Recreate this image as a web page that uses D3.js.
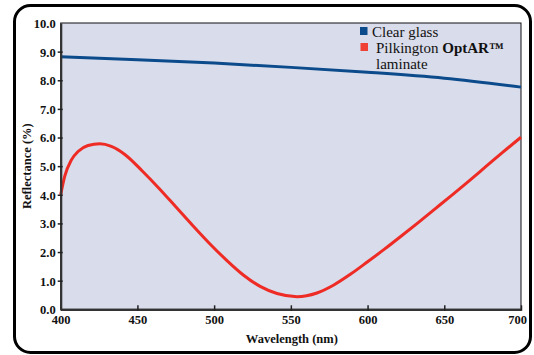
<!DOCTYPE html>
<html>
<head>
<meta charset="utf-8">
<script src="https://cdn.jsdelivr.net/npm/d3@7"></script>
<style>
  body { margin: 0; background: #fff; }
  svg { display: block; }
  text { font-family: "Liberation Serif", "Times New Roman", serif; fill: #111; }
</style>
</head>
<body>
<div id="chart"></div>
<script>
// reflectance curves
const clearNm = [400, 450, 500, 550, 600, 650, 700];
const clearValues = [8.82, 8.72, 8.6, 8.45, 8.28, 8.07, 7.76];

const optarNm = [400, 402.6, 407, 411.3, 417.8, 425.5, 433, 442, 453, 464, 475, 486, 497, 508, 519, 530,
  541, 554, 567, 578, 589, 600, 611, 622, 633, 644, 655, 666, 677, 688, 700];
const optarValues = [4.0, 4.64, 5.22, 5.51, 5.72, 5.78, 5.69, 5.40, 4.84, 4.23, 3.58, 2.93, 2.30, 1.72, 1.20, 0.80,
  0.55, 0.44, 0.57, 0.85, 1.23, 1.66, 2.10, 2.56, 3.03, 3.51, 3.99, 4.48, 4.98, 5.48, 6.01];

const xTicks = [400, 450, 500, 550, 600, 650, 700];
const yTicks = [0, 1, 2, 3, 4, 5, 6, 7, 8, 9, 10];
const legendLabels = ["Clear glass", "Pilkington"];

const width = 534, height = 355;
const margin = { top: 23, right: 13, bottom: 45.7, left: 60.7 };

const svg = d3.select("#chart").append("svg")
    .attr("width", width)
    .attr("height", height);

// outer rounded frame
svg.append("rect")
    .attr("x", 14.5).attr("y", 5.5)
    .attr("width", 516).attr("height", 347)
    .attr("rx", 16).attr("ry", 16)
    .style("fill", "#fff")
    .style("stroke", "#000")
    .style("stroke-width", 3);

const x = d3.scaleLinear().domain([400, 700]).range([margin.left, width - margin.right]);
const y = d3.scaleLinear().domain([0, 10]).range([height - margin.bottom, margin.top]);

// plot background
svg.append("rect")
    .attr("x", x(400)).attr("y", y(10))
    .attr("width", x(700) - x(400)).attr("height", y(0) - y(10))
    .style("fill", "#d9dcea")
    .style("stroke", "#111")
    .style("stroke-width", 1);

const line = d3.line()
    .x(function (d) { return x(d[0]); })
    .y(function (d) { return y(d[1]); })
    .curve(d3.curveMonotoneX);

svg.append("path")
    .datum(d3.zip(clearNm, clearValues))
    .attr("d", line)
    .style("fill", "none")
    .style("stroke", "#0b4b8c")
    .style("stroke-width", 3);

svg.append("path")
    .datum(d3.zip(optarNm, optarValues))
    .attr("d", line)
    .style("fill", "none")
    .style("stroke", "#ee2b24")
    .style("stroke-width", 3);

// axes
const xAxis = svg.append("g")
    .attr("transform", "translate(0," + y(0) + ")")
    .call(d3.axisBottom(x).tickValues(xTicks).tickSizeInner(-4).tickSizeOuter(0).tickPadding(7));
const yAxis = svg.append("g")
    .attr("transform", "translate(" + x(400) + ",0)")
    .call(d3.axisLeft(y).tickValues(yTicks).tickFormat(d3.format(".1f")).tickSizeInner(3).tickSizeOuter(0).tickPadding(2));

[xAxis, yAxis].forEach(function (ax) {
  ax.select(".domain").style("stroke", "#333").style("stroke-width", 2.2);
  ax.selectAll(".tick line").style("stroke", "#222").style("stroke-width", 1.5);
  ax.selectAll(".tick text")
      .style("font-family", "Liberation Serif, serif")
      .style("font-weight", "700")
      .style("font-size", "12.5px")
      .style("fill", "#111");
});
// x ticks start slightly below the axis line
xAxis.selectAll(".tick line").attr("y1", 1.5);
xAxis.selectAll(".tick text").attr("dy", "0.6em");
// last label is pulled in so it stays inside the frame
xAxis.selectAll(".tick").filter(function (d) { return d === 700; }).select("text").attr("dx", -4);
// y ticks cross the axis
yAxis.selectAll(".tick line").attr("x1", 2).attr("x2", -3);
yAxis.selectAll(".tick").filter(function (d) { return d === 0 || d === 10; }).select("line").remove();
yAxis.selectAll(".tick text").attr("dy", "0.35em");

// axis titles
svg.append("text")
    .attr("x", (x(400) + x(700)) / 2 + 1)
    .attr("y", 343)
    .attr("text-anchor", "middle")
    .style("font-weight", "700")
    .style("font-size", "12.5px")
    .text("Wavelength (nm)");

svg.append("text")
    .attr("transform", "translate(31," + y(5.0) + ") rotate(-90)")
    .attr("text-anchor", "middle")
    .style("font-weight", "700")
    .style("font-size", "12.5px")
    .text("Reflectance (%)");

// legend
const legend = svg.append("g").attr("transform", "translate(360,27)");
legend.append("rect").attr("x", 0).attr("y", 0).attr("width", 7.5).attr("height", 8).style("fill", "#0b4b8c");
legend.append("text").attr("x", 12).attr("y", 9.5).style("font-size", "15px").text(legendLabels[0]);
legend.append("rect").attr("x", 0.5).attr("y", 16).attr("width", 7.5).attr("height", 8).style("fill", "#ef4136");
const t2 = legend.append("text").attr("x", 16).attr("y", 25.5).style("font-size", "15px");
t2.append("tspan").text(legendLabels[1] + " ");
t2.append("tspan").style("font-weight", "700").text("OptAR\u2122");
legend.append("text").attr("x", 16).attr("y", 41.5).style("font-size", "15px").text("laminate");
</script>
</body>
</html>
